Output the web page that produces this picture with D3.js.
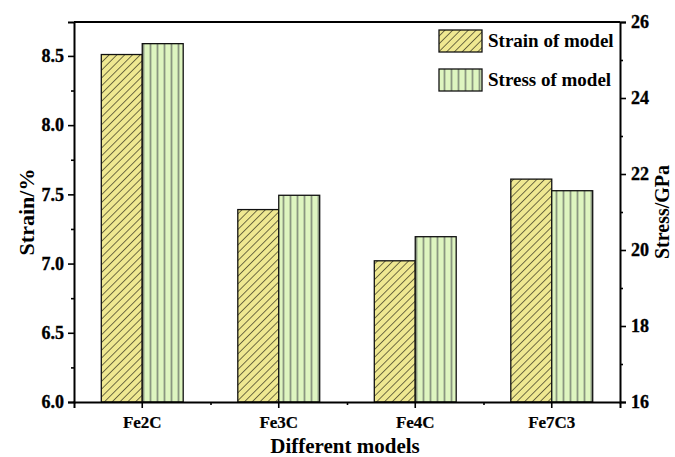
<!DOCTYPE html>
<html>
<head>
<meta charset="utf-8">
<script src="https://cdn.jsdelivr.net/npm/d3@7"></script>
<style>
  body { margin: 0; background: #fff; }
  svg { display: block; font-family: "Liberation Serif", "Times New Roman", serif; }
</style>
</head>
<body>
<svg id="chart" width="675" height="457"></svg>
<script>
// Model categories and their measured values
const models = ["Fe2C", "Fe3C", "Fe4C", "Fe7C3"];
const strainValues = [8.51, 7.39, 7.02, 7.61];     // Strain / %
const stressValues = [25.43, 21.44, 20.35, 21.56]; // Stress / GPa
const strainTicks = [6.0, 6.5, 7.0, 7.5, 8.0, 8.5];
const stressTicks = [16, 18, 20, 22, 24, 26];
const seriesNames = ["Strain of model", "Stress of model"];

const W = 675, H = 457;
const m = { left: 74, right: 55, top: 22, bottom: 55 };
const x0 = m.left, x1 = W - m.right, y0 = H - m.bottom, y1 = m.top;
const serif = "Liberation Serif, Times New Roman, serif";

const svg = d3.select("#chart");
const defs = svg.append("defs");

// Hatch patterns
const pStrain = defs.append("pattern").attr("id", "hatchStrain")
  .attr("patternUnits", "userSpaceOnUse").attr("width", 5.5).attr("height", 5.5)
  .attr("patternTransform", "rotate(45)");
pStrain.append("rect").attr("width", 5.5).attr("height", 5.5).attr("fill", "#efe891");
pStrain.append("line").attr("x1", 0).attr("y1", 0).attr("x2", 0).attr("y2", 5.5)
  .attr("stroke", "#2b2a1a").attr("stroke-width", 1.3);

const pStress = defs.append("pattern").attr("id", "hatchStress")
  .attr("patternUnits", "userSpaceOnUse").attr("width", 7).attr("height", 7);
pStress.append("rect").attr("width", 7).attr("height", 7).attr("fill", "#def5c0");
pStress.append("line").attr("x1", 3.5).attr("y1", 0).attr("x2", 3.5).attr("y2", 7)
  .attr("stroke", "#8a9680").attr("stroke-width", 1.8);

// Scales
const x = d3.scaleBand().domain(models).range([x0, x1]).padding(0);
const yL = d3.scaleLinear().domain([6, 8.745]).range([y0, y1]);
const yR = d3.scaleLinear().domain([16, 26]).range([y0, y1]);
const barW = x.bandwidth() * 0.3;

// Bars
const g = svg.append("g");
models.forEach((mdl, i) => {
  const cx = x(mdl) + x.bandwidth() / 2;
  g.append("rect")
    .attr("x", cx - barW).attr("y", yL(strainValues[i]))
    .attr("width", barW).attr("height", yL(6) - yL(strainValues[i]))
    .attr("fill", "url(#hatchStrain)").attr("stroke", "#111").attr("stroke-width", 1.3);
  g.append("rect")
    .attr("x", cx).attr("y", yR(stressValues[i]))
    .attr("width", barW).attr("height", yR(16) - yR(stressValues[i]))
    .attr("fill", "url(#hatchStress)").attr("stroke", "#111").attr("stroke-width", 1.3);
});

// Axes
const tickFont = sel => sel.attr("font-family", serif).attr("font-size", 18)
  .selectAll("text")
  .attr("font-family", serif)
  .attr("font-weight", "bold").attr("font-size", 18).attr("fill", "#000")
  .attr("stroke", "#000").attr("stroke-width", 0.35);

const leftAxis = svg.append("g").attr("transform", `translate(${x0},0)`)
  .call(d3.axisLeft(yL).tickValues(strainTicks).tickFormat(d3.format(".1f"))
    .tickSize(6).tickPadding(4));
leftAxis.call(tickFont);
svg.append("g").attr("transform", `translate(${x0},0)`)
  .call(d3.axisLeft(yL).tickValues(d3.range(6.25, 8.75, 0.5)).tickFormat("").tickSize(3))
  .select(".domain").remove();

const rightAxis = svg.append("g").attr("transform", `translate(${x1},0)`)
  .call(d3.axisRight(yR).tickValues(stressTicks).tickFormat(d3.format("d"))
    .tickSize(6).tickPadding(5));
rightAxis.call(tickFont);
svg.append("g").attr("transform", `translate(${x1},0)`)
  .call(d3.axisRight(yR).tickValues([17, 19, 21, 23, 25]).tickFormat("").tickSize(3))
  .select(".domain").remove();

const bottomAxis = svg.append("g").attr("transform", `translate(0,${y0})`)
  .call(d3.axisBottom(x).tickSize(6).tickPadding(8));
bottomAxis.call(tickFont);
bottomAxis.selectAll("text").attr("font-size", 17).attr("stroke-width", 0.2);
const minorX = d3.scaleLinear().domain([0, 4]).range([x0, x1]);
svg.append("g").attr("transform", `translate(0,${y0})`)
  .call(d3.axisBottom(minorX).tickValues([1, 2, 3]).tickFormat("").tickSize(3))
  .select(".domain").remove();

// Top frame line
svg.append("line").attr("x1", x0).attr("x2", x1).attr("y1", y1).attr("y2", y1)
  .attr("stroke", "#000").attr("stroke-width", 2);

svg.selectAll(".domain").attr("stroke-width", 2).attr("stroke", "#000");
svg.selectAll(".tick line").attr("stroke-width", 1.6).attr("stroke", "#000");

// Axis titles
svg.append("text").attr("x", (x0 + x1) / 2 - 2).attr("y", 453)
  .attr("text-anchor", "middle").attr("font-weight", "bold").attr("font-size", 21)
  .text("Different models");
svg.append("text").attr("transform", `translate(34,${(y0 + y1) / 2}) rotate(-90)`)
  .attr("text-anchor", "middle").attr("font-weight", "bold").attr("font-size", 22)
  .text("Strain/%");
svg.append("text").attr("transform", `translate(669,${(y0 + y1) / 2}) rotate(-90)`)
  .attr("text-anchor", "middle").attr("font-weight", "bold").attr("font-size", 20)
  .text("Stress/GPa");

// Legend
const legend = svg.append("g");
const fills = ["url(#hatchStrain)", "url(#hatchStress)"];
seriesNames.forEach((name, i) => {
  const ly = 30 + i * 39;
  legend.append("rect").attr("x", 439).attr("y", ly).attr("width", 43).attr("height", 22)
    .attr("fill", fills[i]).attr("stroke", "#111").attr("stroke-width", 1.3);
  legend.append("text").attr("x", 488).attr("y", ly + 17)
    .attr("font-weight", "bold").attr("font-size", 19).text(name);
});
</script>
</body>
</html>
